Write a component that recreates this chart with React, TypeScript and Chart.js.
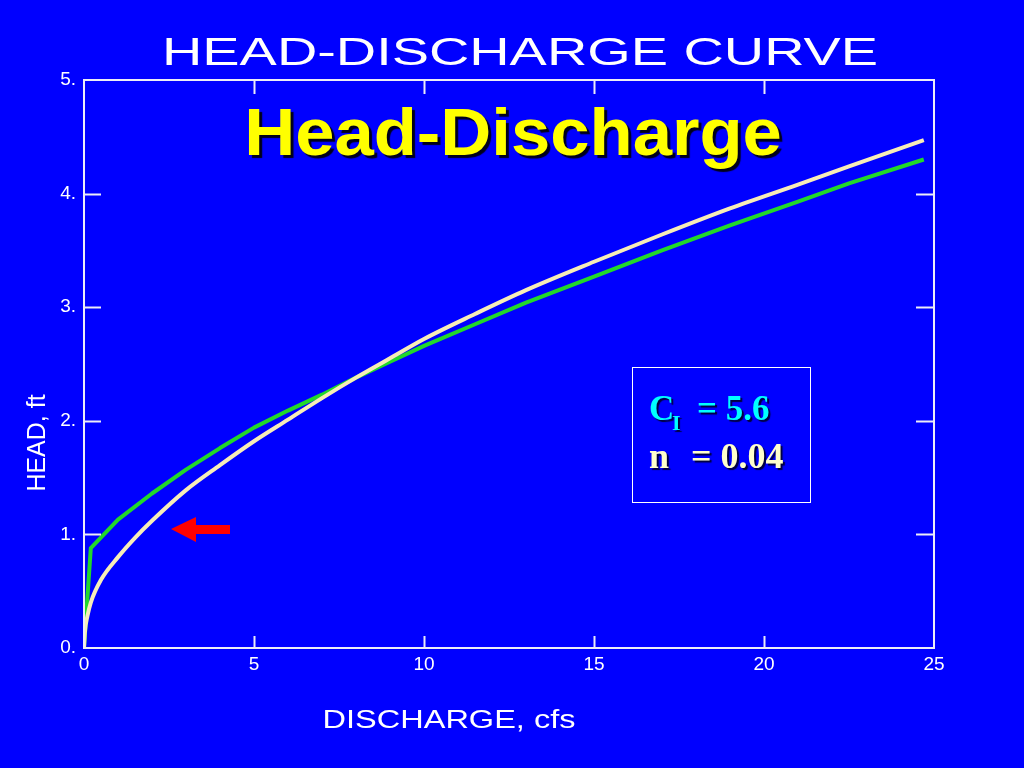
import { useEffect, useRef } from "react";
import { Chart, registerables } from "chart.js";

Chart.register(...registerables);

// Computed (theoretical) head-discharge curve, cream line
const dischargeComputed = [0, 0.03, 0.1, 0.2, 0.5, 1, 1.5, 2, 3, 4, 5, 6, 7, 8, 9, 10, 11.5, 13, 15, 17, 19, 21, 22.5, 24.7];
const headComputed = [0, 0.15, 0.28, 0.4, 0.6, 0.8, 0.97, 1.12, 1.39, 1.61, 1.82, 2.01, 2.2, 2.38, 2.55, 2.72, 2.94, 3.15, 3.4, 3.64, 3.87, 4.08, 4.24, 4.47];

// Rating (field) curve, green line
const dischargeRating = [0, 0.2, 1, 2, 3, 4, 5, 6, 7, 8, 9, 10, 11.5, 13, 15, 17, 19, 21, 22.5, 24.7];
const headRating = [0, 0.88, 1.13, 1.36, 1.57, 1.76, 1.94, 2.09, 2.23, 2.38, 2.52, 2.66, 2.85, 3.04, 3.27, 3.5, 3.72, 3.93, 4.09, 4.3];

const xTickValues = [0, 5, 10, 15, 20, 25];
const yTickValues = [0, 1, 2, 3, 4, 5];

const chartTitle = "HEAD-DISCHARGE CURVE";
const slideTitle = "Head-Discharge";
const xAxisTitle = "DISCHARGE, cfs";
const yAxisTitle = "HEAD, ft";
const coefLabel = "C";
const coefSub = "I";
const coefValue = "= 5.6";
const nLabel = "n";
const nValue = "= 0.04";

const BG = "#0000ff";
const AXIS_COLOR = "#ececf8";
const FONT = "'Liberation Sans', Arial, Helvetica, sans-serif";
const SERIF = "'Liberation Serif', 'Times New Roman', serif";

const decorPlugin = {
  id: "decor",
  afterDraw(chart: any) {
    const ctx: CanvasRenderingContext2D = chart.ctx;
    const { left, right, top, bottom } = chart.chartArea;
    const xs = chart.scales.x;
    const ys = chart.scales.y;
    ctx.save();
    // frame
    ctx.strokeStyle = AXIS_COLOR;
    ctx.lineWidth = 2;
    ctx.strokeRect(left, top, right - left, bottom - top);
    // inner ticks
    ctx.beginPath();
    xTickValues.slice(1, -1).forEach((v) => {
      const px = Math.round(xs.getPixelForValue(v)) + 0.5;
      ctx.moveTo(px, bottom);
      ctx.lineTo(px, bottom - 12);
      ctx.moveTo(px, top);
      ctx.lineTo(px, top + 14);
    });
    yTickValues.slice(1, -1).forEach((v) => {
      const py = Math.round(ys.getPixelForValue(v)) + 0.5;
      ctx.moveTo(left, py);
      ctx.lineTo(left + 17, py);
      ctx.moveTo(right, py);
      ctx.lineTo(right - 18, py);
    });
    ctx.stroke();

    // chart title (stretched, as in the original)
    ctx.fillStyle = "#ffffff";
    ctx.textAlign = "center";
    ctx.textBaseline = "alphabetic";
    ctx.save();
    ctx.translate(520, 65);
    ctx.scale(1.47, 1);
    ctx.font = `38px ${FONT}`;
    ctx.fillText(chartTitle, 0, 0);
    ctx.restore();

    // x axis title
    ctx.save();
    ctx.translate(449, 728);
    ctx.scale(1.3, 1);
    ctx.font = `25px ${FONT}`;
    ctx.fillText(xAxisTitle, 0, 0);
    ctx.restore();

    // y axis title
    ctx.save();
    ctx.translate(45, 443);
    ctx.rotate(-Math.PI / 2);
    ctx.font = `25px ${FONT}`;
    ctx.fillText(yAxisTitle, 0, 0);
    ctx.restore();

    // slide heading
    ctx.save();
    ctx.translate(513, 155);
    ctx.scale(1.07, 1);
    ctx.font = `bold 66px ${FONT}`;
    ctx.shadowColor = "rgba(0,0,0,0.9)";
    ctx.shadowOffsetX = 3;
    ctx.shadowOffsetY = 3;
    ctx.shadowBlur = 1;
    ctx.fillStyle = "#ffff00";
    ctx.fillText(slideTitle, 0, 0);
    ctx.restore();

    // parameter box
    ctx.strokeStyle = "#ffffff";
    ctx.lineWidth = 1;
    ctx.strokeRect(632.5, 367.5, 178, 135);
    ctx.textAlign = "left";
    ctx.shadowColor = "rgba(0,0,40,0.9)";
    ctx.shadowOffsetX = 2;
    ctx.shadowOffsetY = 2;
    ctx.shadowBlur = 1;
    ctx.fillStyle = "#00ffff";
    ctx.font = `bold 35px ${SERIF}`;
    ctx.fillText(coefLabel, 649, 420);
    ctx.font = `bold 22px ${SERIF}`;
    ctx.fillText(coefSub, 672, 430);
    ctx.font = `bold 35px ${SERIF}`;
    ctx.fillText(coefValue, 697, 420);
    ctx.fillStyle = "#ffffcc";
    ctx.font = `bold 36px ${SERIF}`;
    ctx.fillText(nLabel, 649, 468);
    ctx.fillText(nValue, 691, 468);
    ctx.shadowColor = "transparent";

    // red arrow
    ctx.fillStyle = "#ff0000";
    ctx.beginPath();
    ctx.moveTo(171, 529);
    ctx.lineTo(196, 517);
    ctx.lineTo(196, 525);
    ctx.lineTo(230, 525);
    ctx.lineTo(230, 534);
    ctx.lineTo(196, 534);
    ctx.lineTo(196, 542);
    ctx.closePath();
    ctx.fill();
    ctx.restore();
  },
};

export default function App() {
  const canvasRef = useRef<HTMLCanvasElement | null>(null);

  useEffect(() => {
    if (!canvasRef.current) return;
    const computed = dischargeComputed.map((q, i) => ({ x: q, y: headComputed[i] }));
    const rating = dischargeRating.map((q, i) => ({ x: q, y: headRating[i] }));
    const tickFont = { family: FONT, size: 19 };
    const chart = new Chart(canvasRef.current, {
      type: "scatter",
      data: {
        datasets: [
          {
            label: "Computed",
            data: computed,
            showLine: true,
            borderColor: "#f7edb8",
            borderWidth: 4,
            pointRadius: 0,
            cubicInterpolationMode: "monotone",
          },
          {
            label: "Rating",
            data: rating,
            showLine: true,
            borderColor: "#22d82a",
            borderWidth: 4,
            pointRadius: 0,
            tension: 0,
            borderJoinStyle: "round",
          },
        ],
      },
      options: {
        responsive: false,
        animation: false,
        devicePixelRatio: 1,
        layout: { padding: { top: 80, right: 90, left: 0, bottom: 0 } },
        plugins: {
          legend: { display: false },
          tooltip: { enabled: false },
          title: { display: false },
        },
        scales: {
          x: {
            type: "linear",
            min: 0,
            max: 25,
            afterBuildTicks: (s: any) => {
              s.ticks = xTickValues.map((v) => ({ value: v }));
            },
            afterFit: (s: any) => {
              s.height = 120;
            },
            ticks: {
              color: "#ffffff",
              font: tickFont,
              padding: 5,
              maxRotation: 0,
              autoSkip: false,
              callback: (v: any) => String(v),
            },
            grid: { display: false, drawTicks: false },
            border: { display: false },
          },
          y: {
            type: "linear",
            min: 0,
            max: 5,
            afterBuildTicks: (s: any) => {
              s.ticks = yTickValues.map((v) => ({ value: v }));
            },
            afterFit: (s: any) => {
              s.width = 84;
            },
            ticks: {
              color: "#ffffff",
              font: tickFont,
              padding: 8,
              autoSkip: false,
              callback: (v: any) => `${v}.`,
            },
            grid: { display: false, drawTicks: false },
            border: { display: false },
          },
        },
      },
      plugins: [decorPlugin],
    } as any);
    return () => chart.destroy();
  }, []);

  return (
    <div
      style={{
        position: "fixed",
        left: 0,
        top: 0,
        width: 1024,
        height: 768,
        background: BG,
      }}
    >
      <canvas ref={canvasRef} width={1024} height={768} style={{ display: "block" }} />
    </div>
  );
}
